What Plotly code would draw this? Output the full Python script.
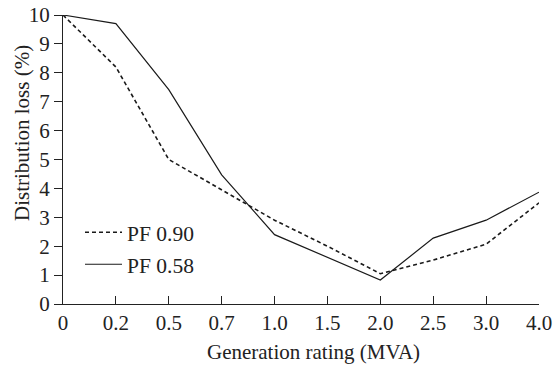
import plotly.graph_objects as go

ratings = ["0", "0.2", "0.5", "0.7", "1.0", "1.5", "2.0", "2.5", "3.0", "4.0"]
pf090 = [10.0, 8.2, 5.0, 3.95, 2.9, 2.0, 1.05, 1.52, 2.07, 3.5]
pf058 = [10.0, 9.7, 7.42, 4.47, 2.4, 1.62, 0.83, 2.28, 2.9, 3.87]
y_ticks = list(range(0, 11))

idx = list(range(len(ratings)))
font = "Liberation Serif, Times New Roman, serif"
col = "#1a1a1a"
txt = "#222"

fig = go.Figure()
fig.add_trace(go.Scatter(x=idx, y=pf090, mode="lines", name="PF 0.90",
                         legendgroup="a",
                         line=dict(color=col, width=1.6, dash="4px,3px")))
fig.add_trace(go.Scatter(x=idx, y=pf058, mode="lines", name="PF 0.58",
                         legendgroup="b",
                         line=dict(color=col, width=1.2)))

fig.update_layout(
    width=559, height=366,
    margin=dict(l=63, r=20, t=15, b=62),
    paper_bgcolor="white", plot_bgcolor="white",
    font=dict(family=font, size=21, color=txt),
    showlegend=True,
    legend=dict(x=(80 - 63) / 476, y=0.319, xanchor="left", yanchor="top",
                bgcolor="rgba(0,0,0,0)", itemwidth=37,
                traceorder="grouped", tracegroupgap=1,
                font=dict(family=font, size=21.5, color=txt)),
    xaxis=dict(range=[0, 9], tickvals=idx, ticktext=ratings, automargin=False,
               showgrid=False, zeroline=False, showline=True,
               linecolor="#222", linewidth=1.2,
               ticks="inside", ticklen=8, tickcolor="#222", tickwidth=1.2,
               tickfont=dict(family=font, size=21)),
    yaxis=dict(range=[0, 10], tickvals=y_ticks, automargin=False,
               showgrid=False, zeroline=False, showline=True,
               linecolor="#222", linewidth=1.2,
               ticks="outside", ticklen=8, tickcolor="#222", tickwidth=1.2,
               tickfont=dict(family=font, size=21)),
    annotations=[
        dict(text="Generation rating (MVA)", xref="paper", yref="paper",
             x=(313 - 63) / 476, y=(304 - 352) / 289, xanchor="center",
             yanchor="middle", showarrow=False,
             font=dict(family=font, size=21, color=txt)),
        dict(text="Distribution loss (%)", xref="paper", yref="paper",
             x=(22 - 63) / 476, y=(304 - 133) / 289, xanchor="center",
             yanchor="middle", textangle=-90, showarrow=False,
             font=dict(family=font, size=21, color=txt)),
    ],
)

fig.write_html("out.html")
